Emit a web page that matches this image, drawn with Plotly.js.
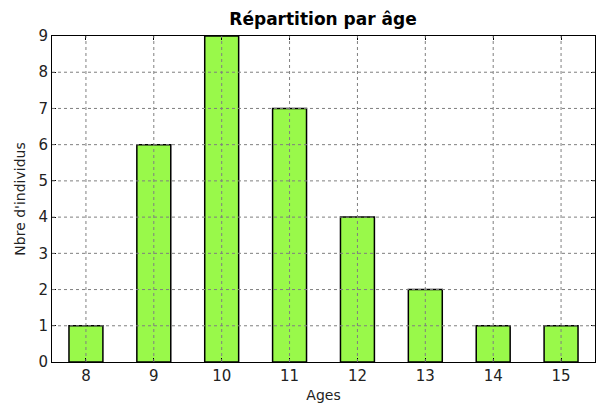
<!DOCTYPE html>
<html><head><meta charset="utf-8">
<script src="https://cdn.plot.ly/plotly-3.0.1.min.js"></script>
<style>html,body{margin:0;padding:0;background:#fff}#c{width:596px;height:403px}</style>
</head><body><div id="c"></div>
<script>
const ages = [8, 9, 10, 11, 12, 13, 14, 15];
const counts = [1, 6, 9, 7, 4, 2, 1, 1];
const yTicks = [0, 1, 2, 3, 4, 5, 6, 7, 8, 9];
const titleText = "Répartition par âge";
const xLabel = "Ages";
const yLabel = "Nbre d'individus";

const gridStyle = {color: '#7f7f7f', width: 1, dash: 'dot'};
const shapes = [];
ages.forEach(a => shapes.push({type: 'line', xref: 'x', yref: 'paper', x0: a, x1: a, y0: 0, y1: 1, layer: 'above', line: gridStyle}));
yTicks.slice(1, -1).forEach(v => shapes.push({type: 'line', xref: 'paper', yref: 'y', x0: 0, x1: 1, y0: v, y1: v, layer: 'above', line: gridStyle}));

const font = {family: 'DejaVu Sans', size: 15, color: '#222'};
const labFont = {family: 'DejaVu Sans', size: 14, color: '#222'};
Plotly.newPlot('c', [{
  type: 'bar', x: ages, y: counts, width: 0.5,
  marker: {color: '#99f94a', line: {color: '#000', width: 1.5}},
  hoverinfo: 'none'
}], {
  width: 596, height: 403,
  margin: {l: 52, r: 1, t: 36, b: 41},
  paper_bgcolor: '#fff', plot_bgcolor: '#fff',
  font: font,
  showlegend: false,
  title: {text: '<b>' + titleText + '</b>', font: {family: 'DejaVu Sans', size: 17, color: '#000'}, x: 0.542, xanchor: 'center', y: 0.952, yanchor: 'middle'},
  xaxis: {range: [7.5, 15.5], tickvals: ages, ticktext: ages.map(String), showgrid: false, zeroline: false,
    showline: true, linecolor: '#000', linewidth: 1, mirror: 'ticks', ticks: 'inside', ticklen: 4, tickcolor: '#000',
    tickfont: font, title: {text: xLabel, font: labFont, standoff: 8}},
  yaxis: {range: [0, 9], tickvals: yTicks, showgrid: false, zeroline: false,
    showline: true, linecolor: '#000', linewidth: 1, mirror: 'ticks', ticks: 'inside', ticklen: 4, tickcolor: '#000',
    tickfont: font, title: {text: yLabel, font: labFont, standoff: 9}},
  shapes: shapes
}, {staticPlot: true});
</script></body></html>
